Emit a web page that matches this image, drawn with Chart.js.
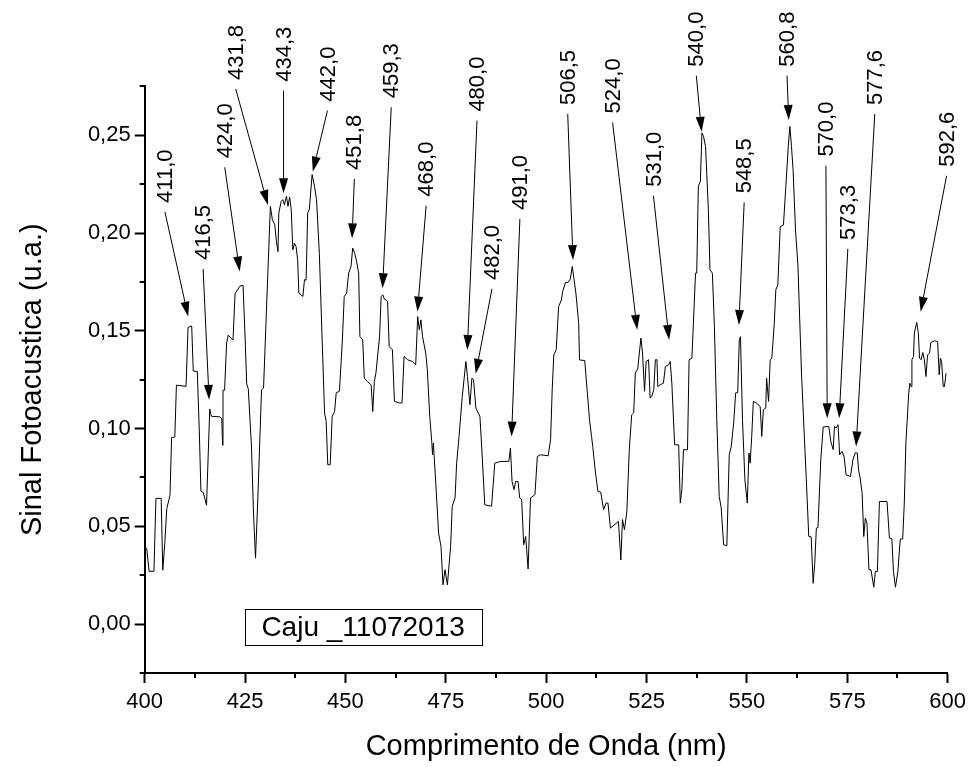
<!DOCTYPE html>
<html>
<head>
<meta charset="utf-8">
<script src="https://cdn.jsdelivr.net/npm/chart.js@4.4.1/dist/chart.umd.min.js"></script>
<style>
  html, body { margin: 0; padding: 0; background: #fff; }
  canvas { display: block; }
</style>
</head>
<body>
<canvas id="c" width="972" height="767"></canvas>
<script>
// ---- data ----
const seriesName = 'Caju _11072013';
const xTitle = 'Comprimento de Onda (nm)';
const yTitle = 'Sinal Fotoacustica (u.a.)';

const wavelength = [
  400.0,400.5,401.1,402.3,402.8,404.1,404.5,405.0,405.5,406.3,406.7,407.5,407.9,410.3,410.8,411.7,412.1,413.1,413.6,414.0,
  414.6,415.4,416.2,416.6,418.7,419.2,419.4,419.5,419.9,420.4,420.8,422.0,422.5,423.7,424.5,425.0,425.4,425.8,426.6,427.1,
  427.6,428.2,429.1,429.6,431.3,431.8,432.4,432.8,433.2,433.4,434.0,434.4,434.8,435.3,435.7,436.1,436.5,436.9,437.3,437.7,
  438.1,438.4,439.4,439.8,440.2,440.6,441.0,441.7,442.3,442.8,443.5,444.8,445.2,445.6,446.2,446.7,447.3,447.7,448.5,449.2,
  449.7,450.3,450.8,451.4,451.8,452.3,452.7,453.3,453.6,454.3,454.7,455.5,456.4,456.8,457.2,457.6,458.5,458.9,459.3,459.7,
  460.1,460.5,460.9,461.7,462.2,463.4,464.1,464.6,465.5,466.7,467.5,468.0,468.4,468.8,469.2,470.0,470.4,471.0,471.5,471.7,
  471.9,472.5,473.2,473.8,474.3,474.8,475.4,476.2,476.6,477.3,477.7,478.3,479.1,480.0,480.4,481.0,481.5,481.9,482.5,483.5,
  484.1,484.7,486.4,487.2,488.7,490.7,491.1,491.5,492.0,492.4,493.0,493.4,493.9,494.4,494.9,495.5,496.1,497.2,497.8,498.6,
  500.5,501.1,501.5,501.9,502.5,503.1,503.8,504.1,504.8,505.4,506.0,506.5,506.9,507.4,508.1,508.3,509.6,510.2,510.8,511.3,
  511.6,512.3,512.9,513.6,514.3,514.9,515.4,516.0,518.0,518.6,519.0,519.5,520.1,520.7,521.3,521.8,522.2,522.8,523.6,524.0,
  524.5,524.9,525.5,525.9,526.3,526.8,527.2,527.6,527.8,528.4,529.2,529.7,530.5,530.9,531.3,532.0,533.0,533.4,533.8,534.2,
  535.2,535.6,536.3,537.2,537.5,537.9,538.4,538.8,539.2,539.7,540.4,540.8,541.4,541.9,542.5,543.1,543.6,544.2,545.0,545.6,
  546.1,546.7,547.2,547.7,548.1,548.4,548.9,549.5,550.1,550.5,550.8,551.2,551.6,552.4,553.3,553.7,554.1,554.7,554.9,555.4,
  555.8,556.2,556.8,557.2,557.7,558.3,559.1,559.7,560.3,560.7,561.1,561.5,562.1,562.7,563.6,564.3,564.8,565.4,566.0,566.5,
  566.9,567.3,567.7,568.4,569.0,570.4,570.9,571.5,571.8,572.2,572.7,573.1,573.7,574.2,574.7,575.8,576.4,577.0,577.5,577.8,
  578.2,578.7,579.1,579.5,579.9,580.4,580.9,581.6,582.0,582.5,583.0,584.9,585.5,586.1,586.5,587.0,587.6,588.2,588.8,589.2,
  589.6,590.3,590.6,590.9,591.1,591.5,591.7,592.3,592.7,593.0,593.4,593.8,594.2,594.6,595.0,595.5,595.8,596.7,597.5,597.9,
  598.2,598.5,598.9,599.2,599.6
];

const signal = [
  0.0387,0.0387,0.0270,0.0270,0.0643,0.0643,0.0276,0.0412,0.0590,0.0659,0.0954,0.0957,0.1222,0.1216,0.1517,0.1525,0.1294,0.1292,0.0988,0.0680,
  0.0673,0.0608,0.1100,0.1063,0.1060,0.1050,0.0915,0.1196,0.1196,0.1437,0.1478,0.1452,0.1690,0.1728,0.1733,0.1468,0.1229,0.1204,0.0906,0.0569,
  0.0337,0.0654,0.1199,0.1207,0.2137,0.2068,0.2043,0.1958,0.1905,0.2102,0.2162,0.2171,0.2145,0.2188,0.2137,0.2184,0.2120,0.1914,0.1948,0.1931,
  0.1863,0.1693,0.1676,0.1762,0.1759,0.2103,0.2120,0.2299,0.2239,0.2171,0.1897,0.1079,0.1037,0.0815,0.0815,0.1062,0.1087,0.1183,0.1191,0.1437,
  0.1675,0.1693,0.1795,0.1830,0.1923,0.1897,0.1863,0.1795,0.1471,0.1454,0.1258,0.1240,0.1224,0.1087,0.1241,0.1284,0.1471,0.1675,0.1684,0.1662,
  0.1658,0.1650,0.1420,0.1403,0.1139,0.1131,0.1131,0.1369,0.1352,0.1343,0.1326,0.1573,0.1505,0.1556,0.1471,0.1386,0.1301,0.1062,0.0934,0.0866,
  0.0926,0.0721,0.0466,0.0397,0.0201,0.0278,0.0201,0.0397,0.0603,0.0645,0.0823,0.0960,0.1164,0.1343,0.1266,0.1122,0.1258,0.1250,0.1105,0.1062,
  0.0849,0.0610,0.0603,0.0823,0.0832,0.0832,0.0900,0.0729,0.0688,0.0729,0.0729,0.0645,0.0637,0.0406,0.0448,0.0282,0.0645,0.0662,0.0857,0.0866,
  0.0861,0.0943,0.1198,0.1377,0.1403,0.1624,0.1658,0.1701,0.1747,0.1747,0.1764,0.1829,0.1769,0.1693,0.1539,0.1351,0.1348,0.1198,0.1045,0.0960,
  0.0909,0.0772,0.0678,0.0675,0.0585,0.0619,0.0619,0.0491,0.0525,0.0328,0.0535,0.0483,0.0576,0.0892,0.1070,0.1080,0.1284,0.1305,0.1463,0.1387,
  0.1191,0.1343,0.1352,0.1156,0.1165,0.1198,0.1352,0.1352,0.1215,0.1224,0.1232,0.1318,0.1326,0.1343,0.1232,0.0917,0.0917,0.0619,0.0688,0.0892,
  0.0892,0.1352,0.1360,0.1795,0.1795,0.2239,0.2264,0.2512,0.2494,0.2443,0.2120,0.1812,0.1795,0.1522,0.1045,0.0653,0.0594,0.0406,0.0401,0.0866,
  0.0909,0.1028,0.1183,0.1183,0.1454,0.1470,0.1045,0.0738,0.0619,0.0875,0.0823,0.0960,0.1139,0.1130,0.1113,0.0960,0.1096,0.1105,0.1258,0.1139,
  0.1352,0.1360,0.1532,0.1710,0.1735,0.2032,0.2041,0.2239,0.2443,0.2545,0.2443,0.2324,0.2016,0.1837,0.1283,0.0960,0.0738,0.0449,0.0446,0.0209,
  0.0311,0.0491,0.0494,0.0840,0.1008,0.1011,0.0934,0.0892,0.1011,0.1003,0.1020,0.0866,0.0883,0.0857,0.0764,0.0755,0.0840,0.0877,0.0875,0.0789,
  0.0747,0.0669,0.0448,0.0542,0.0517,0.0278,0.0278,0.0189,0.0269,0.0269,0.0627,0.0627,0.0440,0.0437,0.0269,0.0189,0.0269,0.0435,0.0435,0.0619,
  0.0926,0.1181,0.1232,0.1215,0.1352,0.1369,0.1488,0.1543,0.1488,0.1360,0.1352,0.1389,0.1352,0.1266,0.1377,0.1386,0.1440,0.1449,0.1445,0.1275,
  0.1360,0.1343,0.1215,0.1215,0.1283
];

// peak annotations: label, arrow tip (nm, signal), label foot (nm, signal)
const peakLabels = ['411,0','416,5','424,0','431,8','434,3','442,0','451,8','459,3','468,0','480,0','482,0','491,0',
                    '506,5','524,0','531,0','540,0','548,5','560,8','570,0','573,3','577,6','592,6'];
const peakTipX   = [410.83,416.04,423.67,430.69,434.59,441.87,451.65,459.25,467.94,480.36,482.44,491.38,
                    506.68,522.67,530.62,538.71,548.00,560.42,570.00,572.98,577.20,593.27];
const peakTipY   = [0.1573,0.1147,0.1803,0.2144,0.2203,0.2314,0.1973,0.1718,0.1598,0.1402,0.1280,0.0959,
                    0.1862,0.1505,0.1453,0.2518,0.1530,0.2578,0.1053,0.1053,0.0908,0.1597];
const labelFootX = [405.04,414.55,419.94,422.67,434.59,445.52,452.22,461.41,470.10,482.77,486.49,493.45,
                    505.37,516.54,526.72,537.40,549.32,559.99,569.68,575.14,581.85,599.73];
const labelFootY = [0.2154,0.1862,0.2382,0.2783,0.2774,0.2672,0.2323,0.2689,0.2186,0.2621,0.1760,0.2118,
                    0.2655,0.2612,0.2237,0.2851,0.2203,0.2851,0.2391,0.1965,0.2655,0.2339];

const FONT = '"Liberation Sans", Arial, Helvetica, sans-serif';

function isMajorX(v) { return Math.abs(Math.round(v * 100) % 2500) === 0; }
function isMajorY(v) { return Math.abs(Math.round(v * 1000) % 50) === 0; }

const overlay = {
  id: 'overlay',
  afterDraw(chart) {
    const ctx = chart.ctx;
    const xs = chart.scales.x, ys = chart.scales.y;
    const area = chart.chartArea;
    ctx.save();
    // minor ticks
    ctx.strokeStyle = '#000';
    ctx.lineWidth = 2;
    ctx.beginPath();
    xs.ticks.forEach(t => {
      if (!isMajorX(t.value)) {
        const px = Math.round(xs.getPixelForValue(t.value));
        ctx.moveTo(px, area.bottom); ctx.lineTo(px, area.bottom + 5);
      }
    });
    ys.ticks.forEach(t => {
      if (!isMajorY(t.value)) {
        const py = Math.round(ys.getPixelForValue(t.value));
        ctx.moveTo(area.left, py); ctx.lineTo(area.left - 5, py);
      }
    });
    ctx.stroke();

    // peak annotations
    ctx.fillStyle = '#000';
    ctx.strokeStyle = '#000';
    ctx.lineWidth = 1;
    ctx.font = '22px ' + FONT;
    for (let i = 0; i < peakLabels.length; i++) {
      const fx = xs.getPixelForValue(labelFootX[i]);
      const fy = ys.getPixelForValue(labelFootY[i]);
      const tx = xs.getPixelForValue(peakTipX[i]);
      const ty = ys.getPixelForValue(peakTipY[i]);
      ctx.save();
      ctx.translate(fx, fy);
      ctx.rotate(-Math.PI / 2);
      ctx.textAlign = 'left';
      ctx.textBaseline = 'middle';
      ctx.fillText(peakLabels[i], 0, 1);
      ctx.restore();
      const sx = fx, sy = fy + 9;
      const ang = Math.atan2(ty - sy, tx - sx);
      const L = 15, W = 4.5;
      const bx = tx - L * Math.cos(ang), by = ty - L * Math.sin(ang);
      ctx.beginPath();
      ctx.moveTo(sx, sy); ctx.lineTo(bx, by);
      ctx.stroke();
      ctx.beginPath();
      ctx.moveTo(tx, ty);
      ctx.lineTo(bx + W * Math.sin(ang), by - W * Math.cos(ang));
      ctx.lineTo(bx - W * Math.sin(ang), by + W * Math.cos(ang));
      ctx.closePath();
      ctx.fill();
    }

    // legend box
    const lx = area.left + 0.1254 * (area.right - area.left);
    const ly = area.top + 0.8914 * (area.bottom - area.top);
    ctx.lineWidth = 1;
    ctx.strokeRect(Math.round(lx) + 0.5, Math.round(ly) + 0.5, 237, 36);
    ctx.font = '28px ' + FONT;
    ctx.textAlign = 'left';
    ctx.textBaseline = 'middle';
    ctx.fillText(chart.data.datasets[0].label, lx + 16, ly + 19);
    ctx.restore();
  }
};

new Chart(document.getElementById('c'), {
  type: 'line',
  data: {
    datasets: [{
      label: seriesName,
      data: wavelength.map((w, i) => ({ x: w, y: signal[i] })),
      borderColor: '#000',
      borderWidth: 1,
      pointRadius: 0,
      tension: 0,
      fill: false
    }]
  },
  options: {
    responsive: false,
    animation: false,
    devicePixelRatio: 1,
    layout: { padding: { top: 86.4, right: 22, left: 0, bottom: 0 } },
    plugins: { legend: { display: false }, tooltip: { enabled: false } },
    scales: {
      x: {
        type: 'linear',
        min: 400, max: 600,
        afterFit(s) { s.height = 94; },
        border: { display: true, color: '#000', width: 2 },
        grid: {
          drawOnChartArea: false, drawTicks: true, tickLength: 10, tickWidth: 2,
          tickColor: c => isMajorX(c.tick.value) ? '#000' : 'rgba(0,0,0,0)'
        },
        ticks: {
          stepSize: 12.5, autoSkip: false, maxRotation: 0, padding: 6,
          color: '#000', font: { family: FONT, size: 22 },
          callback: v => isMajorX(v) ? String(Math.round(v)) : ''
        },
        title: {
          display: true, text: xTitle, color: '#000',
          font: { family: FONT, size: 29 }, padding: { top: 0, bottom: 3 }
        }
      },
      y: {
        type: 'linear',
        min: -0.025, max: 0.275,
        afterFit(s) { s.width = 144.7; },
        border: { display: true, color: '#000', width: 2 },
        grid: {
          drawOnChartArea: false, drawTicks: true, tickLength: 10, tickWidth: 2,
          tickColor: c => isMajorY(c.tick.value) ? '#000' : 'rgba(0,0,0,0)'
        },
        ticks: {
          stepSize: 0.025, autoSkip: false, padding: 4,
          color: '#000', font: { family: FONT, size: 22 },
          callback: v => isMajorY(v) ? v.toFixed(2).replace('.', ',').replace('-0,00', '0,00') : ''
        },
        title: {
          display: true, text: yTitle, color: '#000',
          font: { family: FONT, size: 29 }, padding: { top: 16, bottom: 0 }
        }
      }
    }
  },
  plugins: [overlay]
});
</script>
</body>
</html>
